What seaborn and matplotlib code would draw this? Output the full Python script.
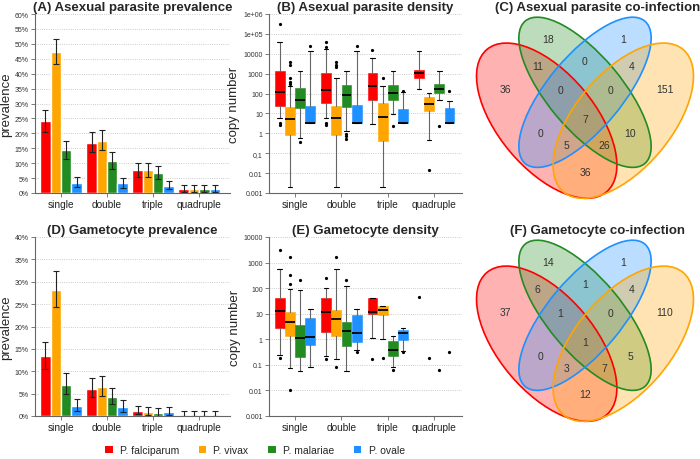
import numpy as np
import pandas as pd
import matplotlib
matplotlib.use("Agg")
import matplotlib.pyplot as plt
import seaborn as sns
from matplotlib.patches import Ellipse, Patch

sns.set_theme(style="white")
plt.rcParams["font.family"] = ["Liberation Sans", "DejaVu Sans"]

# ---- data ----
species = ["P. falciparum", "P. vivax", "P. malariae", "P. ovale"]
colors = ["#FF0000", "#FFA500", "#228B22", "#1E90FF"]
groups = ["single", "double", "triple", "quadruple"]

# (A) asexual prevalence (%), rows = species, cols = groups
asex_prev = [[24.0, 16.8, 7.6, 1.4],
             [47.3, 17.4, 7.6, 1.4],
             [14.3, 10.7, 6.6, 1.4],
             [3.5, 3.2, 2.4, 1.4]]
asex_lo = [[20.3, 13.7, 5.4, 0.5],
           [43.2, 14.3, 5.4, 0.5],
           [11.5, 8.0, 4.6, 0.5],
           [2.0, 1.7, 1.2, 0.5]]
asex_hi = [[27.8, 20.3, 10.1, 2.7],
           [51.7, 21.0, 10.1, 2.7],
           [17.5, 13.6, 9.0, 2.7],
           [5.4, 5.0, 4.1, 2.7]]

# (D) gametocyte prevalence (%)
gam_prev = [[13.3, 6.0, 1.1, 0.3],
            [28.2, 6.4, 0.8, 0.3],
            [7.0, 4.2, 0.6, 0.3],
            [2.3, 2.1, 0.8, 0.3]]
gam_lo = [[10.6, 4.2, 0.4, 0.0],
          [24.4, 4.5, 0.2, 0.0],
          [5.0, 2.6, 0.1, 0.0],
          [1.2, 1.0, 0.2, 0.0]]
gam_hi = [[16.6, 8.4, 2.3, 1.1],
          [32.3, 8.9, 2.0, 1.1],
          [9.6, 6.3, 1.8, 1.1],
          [3.9, 3.6, 2.0, 1.1]]

# (B) asexual density box stats (copy number)
asex_med = [[117, 148, 250, 1100], [5.2, 5.6, 6.6, 30], [47, 89, 110, 170], [3.3, 3.3, 3.3, 3.3]]
asex_q1 = [[23, 33, 47, 590], [0.79, 0.79, 0.40, 14], [18.5, 22, 45, 105], [3.3, 3.3, 3.3, 3.3]]
asex_q3 = [[1290, 1050, 1050, 1550], [21, 25, 35, 70], [200, 275, 275, 320], [23, 27, 17, 19]]
asex_wlo = [[5.9, 6, 3.0, 170], [0.0021, 0.0021, 0.0021, 0.45], [0.57, 1.25, 9.6, 48], [3.3, 3.3, 3.3, 3.3]]
asex_whi = [[40000, 17000, 6200, 14500], [230, 590, 250, 110], [1300, 1380, 1380, 1380], [14500, 14500, 117, 42]]
asex_out = [[[3e5, 3.4, 2.7], [38000, 21000, 3.4, 2.7], [15500], []],
            [[3800, 2700, 600, 400, 300], [3800, 2750, 2100], [610], [0.015]],
            [[0.36], [0.9, 0.7, 0.54], [2.3], [2.3]],
            [[25000], [25000], [140], [140]]]

# (E) gametocyte density box stats (single .. triple)
gam_med = [[12.3, 12, 11.5], [4.6, 6.4, 14.5], [1.1, 2.1, 0.39], [1.2, 1.8, 1.8]]
gam_q1 = [[2.75, 1.9, 10], [1.4, 1.4, 9.2], [0.2, 0.53, 0.23], [0.6, 0.78, 0.96]]
gam_q3 = [[41, 41, 40], [11.7, 13.5, 19.5], [3.5, 4.8, 0.85], [6.8, 8.7, 2.4]]
gam_wlo = [[0.25, 0.22, 1.1], [0.075, 0.17, 1.05], [0.06, 0.06, 0.08], [0.08, 0.37, 0.36]]
gam_whi = [[575, 100, 42], [95, 575, 19.5], [87, 117, 1.35], [14.7, 14.7, 2.75]]
gam_out = [[[3000, 0.19], [250, 0.17], [0.17]],
           [[1650, 315, 150, 0.01], [1650, 0.08], [0.19]],
           [[200], [200], [0.065]],
           [[], [0.32], [0.33]]]
gam_quad = [45, 0.19, 0.065, 0.32]   # single observations in quadruple group

# Venn counts, regions: R, G, B, O, RG, GB, BO, RGB, GBO, RGBO, RB, GO, RBO, RGO, RO
venn_asex = [36, 18, 1, 151, 11, 0, 4, 0, 0, 7, 0, 10, 5, 26, 36]
venn_gam = [37, 14, 1, 110, 6, 1, 4, 1, 0, 1, 0, 5, 3, 7, 12]

# ---- layout ----
fig = plt.figure(figsize=(7, 4.6), dpi=100)


def px_axes(l, t, r, b):
    return fig.add_axes([l / 700, 1 - b / 460, (r - l) / 700, (b - t) / 460])


def style_axes(ax):
    for s in ["top", "right"]:
        ax.spines[s].set_visible(False)
    for s in ["left", "bottom"]:
        ax.spines[s].set_color("#666666")
        ax.spines[s].set_linewidth(0.8)
    ax.tick_params(axis="both", direction="out", length=3, width=0.6, color="#666666",
                   bottom=True, left=True)
    ax.tick_params(axis="y", labelsize=5, labelcolor="#333333", pad=1.5)
    ax.tick_params(axis="x", labelsize=7.3, labelcolor="#222222", pad=1.5)
    ax.yaxis.grid(True, linestyle=":", color="#bbbbbb", linewidth=0.6)
    ax.xaxis.grid(False)
    ax.set_axisbelow(True)
    ax.set_xlabel("")


def bar_panel(ax, vals, lo, hi, ymax, title):
    df = pd.DataFrame({
        "group": np.repeat([groups], len(species), axis=0).ravel(),
        "species": np.repeat(species, len(groups)),
        "value": np.ravel(vals),
    })
    sns.barplot(data=df, x="group", y="value", hue="species", order=groups,
                hue_order=species, palette=colors, errorbar=None, width=0.9,
                gap=0, saturation=1, legend=False, ax=ax)
    bars = list(ax.containers)
    for i, cont in enumerate(bars):
        xs = [p.get_x() + p.get_width() / 2 for p in cont.patches]
        v = np.array(vals[i])
        ax.errorbar(xs, v, yerr=[v - np.array(lo[i]), np.array(hi[i]) - v], fmt="none",
                    ecolor="#222222", elinewidth=0.8, capsize=2.5, capthick=0.8)
    ax.set_xlim(-0.565, 3.67)
    ax.set_ylim(0, ymax)
    ax.set_yticks(np.arange(0, ymax + 1, 5))
    ax.set_yticklabels([f"{t}%" for t in range(0, ymax + 1, 5)])
    style_axes(ax)
    ax.set_ylabel("prevalence", fontsize=9.5, labelpad=2)
    ax.set_title(title, fontsize=9.5, fontweight="bold", pad=3)


def box_panel(ax, med, q1, q3, wlo, whi, out, ylim, yticks, ylabels, title):
    offs = [-0.33, -0.11, 0.11, 0.33]
    for i, col in enumerate(colors):
        stats = []
        for g in range(len(med[i])):
            stats.append(dict(med=med[i][g], q1=q1[i][g], q3=q3[i][g],
                              whislo=wlo[i][g], whishi=whi[i][g], fliers=out[i][g]))
        pos = [g + offs[i] for g in range(len(stats))]
        ax.bxp(stats, positions=pos, widths=0.21, patch_artist=True, manage_ticks=False,
               boxprops=dict(facecolor=col, edgecolor=col, linewidth=0.4),
               medianprops=dict(color="black", linewidth=1.3),
               whiskerprops=dict(color="#666666", linewidth=0.8),
               capprops=dict(color="black", linewidth=0.8), capwidths=0.1,
               flierprops=dict(marker="o", markersize=1.3, markerfacecolor="black",
                               markeredgecolor="black"))
    ax.set_yscale("log")
    ax.set_ylim(*ylim)
    ax.set_yticks(yticks)
    ax.set_yticklabels(ylabels)
    ax.minorticks_off()
    ax.set_xticks(range(4))
    ax.set_xticklabels(groups)
    ax.set_xlim(-0.56, 3.6)
    style_axes(ax)
    ax.set_ylabel("copy number", fontsize=9.5, labelpad=2)
    ax.set_title(title, fontsize=9.5, fontweight="bold", pad=3)


# Venn geometry (pixel offsets from the centre region, y up); order red, green, blue, orange
venn_colors = [colors[0], colors[2], colors[3], colors[1]]
ell_centers = [(-38.3, -1.7), (0, 26.7), (0, 26.7), (38.3, -1.7)]
ell_axes = [(186, 96), (186, 74), (186, 74), (186, 96)]
ell_angles = [-50, -50, 50, 50]
label_pos = [(-80, 30), (-37, 80), (37.7, 80), (80, 30), (-47.3, 53.3), (0, 58.3),
             (46.7, 53.3), (-25, 29), (25, 29), (0, 0), (-45, -14.3), (45, -14.3),
             (-18.5, -25.7), (19, -25.7), (0, -52.5)]


def venn_panel(ax, counts, title):
    for (c, (w, h), a, col) in zip(ell_centers, ell_axes, ell_angles, venn_colors):
        ax.add_patch(Ellipse(c, w, h, angle=a, facecolor=col, alpha=0.3, edgecolor="none"))
    for (c, (w, h), a, col) in zip(ell_centers, ell_axes, ell_angles, venn_colors):
        ax.add_patch(Ellipse(c, w, h, angle=a, facecolor="none", edgecolor=col, linewidth=1.2))
    for (x, y), n in zip(label_pos, counts):
        ax.text(x, y, str(n), ha="center", va="center", fontsize=7.5, color="#333333")
    ax.set_xlim(-125, 115)
    ax.set_ylim(-95, 105)
    ax.axis("off")
    ax.set_title(title, fontsize=9.5, fontweight="bold", pad=3, x=0.575)


axA = px_axes(35, 15, 230, 194)
bar_panel(axA, asex_prev, asex_lo, asex_hi, 60, "(A) Asexual parasite prevalence")

axD = px_axes(35, 238, 230, 417)
bar_panel(axD, gam_prev, gam_lo, gam_hi, 40, "(D) Gametocyte prevalence")

axB = px_axes(269, 15, 462, 194)
box_panel(axB, asex_med, asex_q1, asex_q3, asex_wlo, asex_whi, asex_out, (1e-3, 1e6),
          [1e-3, 1e-2, 1e-1, 1, 10, 100, 1e3, 1e4, 1e5, 1e6],
          ["0.001", "0.01", "0,1", "1", "10", "100", "1000", "10000", "1e+05", "1e+06"],
          "(B) Asexual parasite density")

axE = px_axes(269, 238, 462, 417)
box_panel(axE, gam_med, gam_q1, gam_q3, gam_wlo, gam_whi, gam_out, (1e-3, 1e4),
          [1e-3, 1e-2, 1e-1, 1, 10, 100, 1e3, 1e4],
          ["0.001", "0.01", "0.1", "1", "10", "100", "1000", "10000"],
          "(E) Gametocyte density")
axE.plot([3 - 0.33, 3 - 0.11, 3 + 0.11, 3 + 0.33], gam_quad, linestyle="none",
         marker="o", markersize=1.3, color="black")

axC = px_axes(460, 15, 700, 215)
venn_panel(axC, venn_asex, "(C) Asexual parasite co-infection")

axF = px_axes(460, 238, 700, 438)
venn_panel(axF, venn_gam, "(F) Gametocyte co-infection")

handles = [Patch(facecolor=c, edgecolor="none", label=s) for s, c in zip(species, colors)]
fig.legend(handles=handles, loc="center", bbox_to_anchor=(255 / 700, 1 - 451 / 460),
           ncol=4, frameon=False, fontsize=7.5, handlelength=0.7, handleheight=0.7,
           handletextpad=0.7, columnspacing=1.9)

fig.savefig("out.png", dpi=100)
